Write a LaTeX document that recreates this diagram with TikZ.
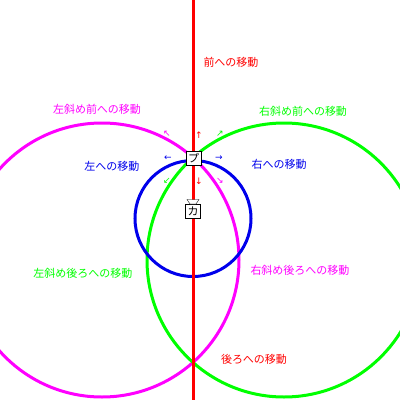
\documentclass[tikz,border=0pt]{standalone}
\usepackage{fontspec}
\setmainfont{Noto Sans CJK JP}
\newfontfamily\arrowfont{DejaVu Sans}
\definecolor{movegreen}{RGB}{0,255,0}
\definecolor{movemagenta}{RGB}{255,0,255}
\definecolor{movered}{RGB}{255,0,0}
\definecolor{moveblue}{RGB}{0,0,235}
\begin{document}
\begin{tikzpicture}[
    x=1pt, y=-1pt,
    % Define styles
    movepath/.style={
        line width=3pt
    },
    movelabel/.style={
        inner sep=0pt,
        font=\fontsize{11}{13}\selectfont
    },
    dirarrow/.style={
        inner sep=0pt,
        font=\arrowfont\fontsize{9}{10}\selectfont
    },
    unitbox/.style={
        rectangle,
        draw,
        thin,
        fill=white,
        minimum width=15pt,
        minimum height=14pt,
        inner sep=0pt,
        font=\fontsize{11}{13}\selectfont
    }
]

% Variables
\def\axisx{193}
\def\sidex{91}
\def\bigr{137}
\def\bigy{260}
\pgfmathsetmacro{\leftx}{\axisx-\sidex}
\pgfmathsetmacro{\rightx}{\axisx+\sidex}

% Canvas
\useasboundingbox (0,0) rectangle (400,400);
\clip (0,0) rectangle (400,400);

% Circles of movement
\draw[movemagenta, movepath] (\leftx,\bigy) circle[radius=\bigr];
\draw[movegreen, movepath] (\rightx,\bigy) circle[radius=\bigr];
\draw[moveblue, movepath] (\axisx,218.5) circle[radius=58];

% Front and back line
\coordinate (fronttop) at (\axisx,0);
\coordinate (backend) at (\axisx,400);
\draw[movered, movepath] (fronttop) -- (backend);

% Units
\node[unitbox] (pu) at (\axisx+0.5,158) {プ};
\node[unitbox] (ka) at (\axisx,211) {カ};
\draw[thin, fill=white] (187,199.5) -- (199,199.5) -- (196,204) -- (190,204) -- cycle;

% Direction arrows
\node[dirarrow, movemagenta] (ularrow) at (167,134) {↖};
\node[dirarrow, movered] (uarrow) at (199,135) {↑};
\node[dirarrow, movegreen] (urarrow) at (220,134) {↗};
\node[dirarrow, moveblue] (larrow) at (168,158.5) {←};
\node[dirarrow, moveblue] (rarrow) at (219,158) {→};
\node[dirarrow, movegreen] (dlarrow) at (167,181) {↙};
\node[dirarrow, movered] (darrow) at (199,181) {↓};
\node[dirarrow, movemagenta] (drarrow) at (220,181) {↘};

% Labels
\node[movelabel, movered] (frontlabel) at (231,62) {前への移動};
\node[movelabel, movemagenta] (flabel) at (97,109) {左斜め前への移動};
\node[movelabel, movegreen] (frlabel) at (303,111) {右斜め前への移動};
\node[movelabel, moveblue] (leftlabel) at (112,166) {左への移動};
\node[movelabel, moveblue] (rightlabel) at (279,164) {右への移動};
\node[movelabel, movegreen] (bllabel) at (83,273) {左斜め後ろへの移動};
\node[movelabel, movemagenta] (brlabel) at (300,270) {右斜め後ろへの移動};
\node[movelabel, movered] (backlabel) at (254,359) {後ろへの移動};

\end{tikzpicture}
\end{document}
